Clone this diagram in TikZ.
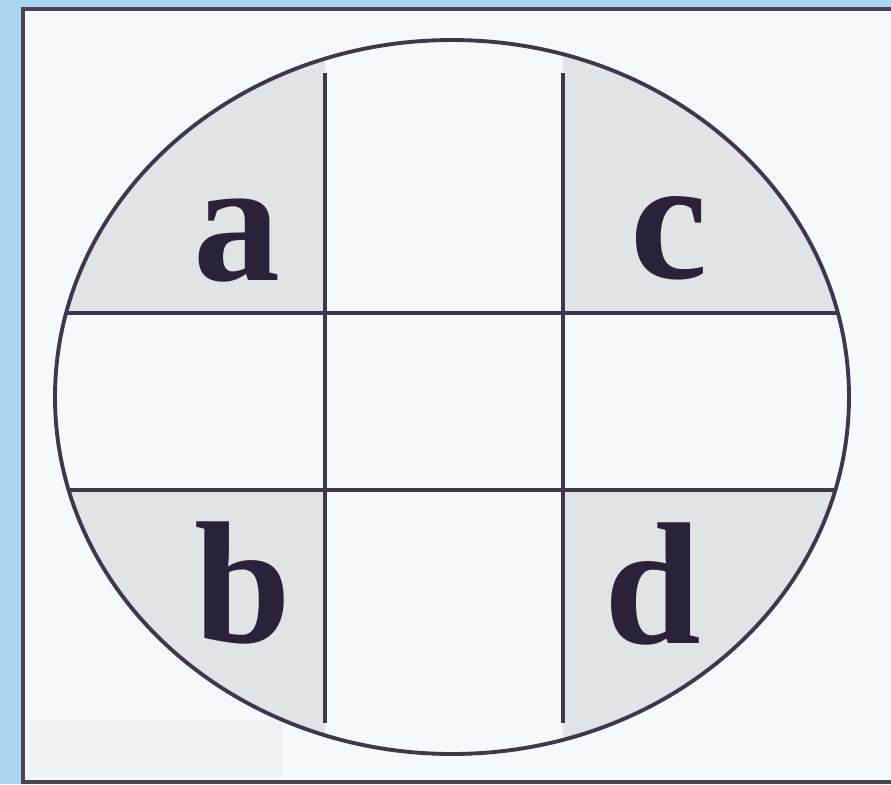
\documentclass[tikz,border=0pt]{standalone}
\usepackage{fontspec}
\setmainfont{Liberation Serif}
\usepackage{tikz}
\usetikzlibrary{positioning,calc}
\definecolor{skyback}{RGB}{168,214,240}
\definecolor{paper}{RGB}{246,249,252}
\definecolor{cornergrey}{RGB}{226,227,231}
\definecolor{ink}{RGB}{42,34,56}
\definecolor{patchgrey}{RGB}{238,240,243}

\begin{document}
\begin{tikzpicture}[
  letter/.style={anchor=base,text=ink,font=\fontsize{49.5}{50}\bfseries\selectfont,inner sep=0pt},
  gridline/.style={draw=ink!90,line width=0.9pt}]
\clip (0,0) rectangle (8.91,7.84);
\fill[skyback] (0,0) rectangle (8.91,7.84);
\draw[fill=paper,draw=ink!85,line width=1.2pt] (0.23,0.02) rectangle (9.2,7.75);
\fill[patchgrey] (0.27,0.06) rectangle (2.82,0.64);

\coordinate (O) at (4.52,3.87);

% shaded corners
\begin{scope}
\clip (O) ellipse [x radius=3.97cm, y radius=3.57cm];
\fill[cornergrey] (0,4.71) rectangle (3.25,8);
\fill[cornergrey] (5.63,4.71) rectangle (9,8);
\fill[cornergrey] (0,0) rectangle (3.25,2.94);
\fill[cornergrey] (5.63,0) rectangle (9,2.94);
\draw[gridline] (0,4.71) -- (9,4.71);
\draw[gridline] (0,2.94) -- (9,2.94);
\end{scope}

\draw[gridline] (3.25,7.11) -- (3.25,0.61);
\draw[gridline] (5.63,7.11) -- (5.63,0.61);

\draw[ink!90,line width=1.1pt] (O) ellipse [x radius=3.97cm, y radius=3.57cm];

\node[letter] (A) at (2.37,5.04) {a};
\node[letter] (C) at (6.69,5.06) {c};
\node[letter] (B) at (2.43,1.42) {b};
\node[letter] (D) at (6.53,1.41) {d};
\end{tikzpicture}
\end{document}
